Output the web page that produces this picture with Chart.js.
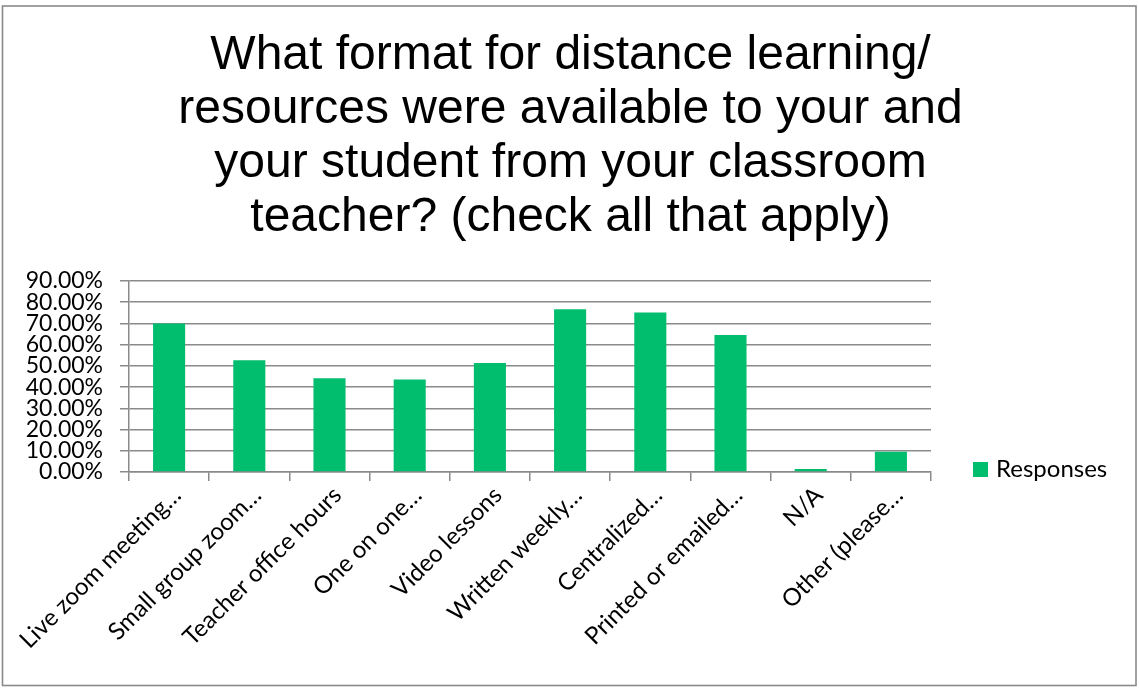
<!DOCTYPE html>
<html><head><meta charset="utf-8">
<script src="https://cdn.jsdelivr.net/npm/chart.js@4.4.1/dist/chart.umd.min.js"></script>
<style>html,body{margin:0;padding:0;background:#fff;}canvas{display:block;}</style>
</head><body>
<canvas id="c" width="1139" height="692"></canvas>
<script>
const categories = ["Live zoom meeting\u2026", "Small group zoom\u2026", "Teacher office hours", "One on one\u2026", "Video lessons", "Written weekly\u2026", "Centralized\u2026", "Printed or emailed\u2026", "N/A", "Other (please\u2026"];
const responses = [70.0, 52.7, 44.2, 43.6, 51.4, 76.7, 75.1, 64.6, 1.4, 9.6];
const yTickValues = [0, 10, 20, 30, 40, 50, 60, 70, 80, 90];
const seriesName = "Responses";
const titleLines = ["What format for distance learning/", "resources were available to your and", "your student from your classroom", "teacher? (check all that apply)"];

const barColor = "#00BE6E";
const gridColor = "#8a8a8a";

const frame = {
  id: "frame",
  beforeDraw(chart) {
    const ctx = chart.ctx;
    ctx.save();
    ctx.fillStyle = "#fff";
    ctx.fillRect(0, 0, chart.width, chart.height);
    ctx.restore();
  },
  afterDraw(chart) {
    const ctx = chart.ctx;
    ctx.save();
    ctx.strokeStyle = "#8a8a8a";
    ctx.lineWidth = 1.6;
    ctx.strokeRect(2.5, 6, 1133.5, 679.5);
    // legend
    const a = chart.chartArea;
    const ds = chart.data.datasets[0];
    ctx.fillStyle = ds.backgroundColor;
    ctx.fillRect(a.right + 42, 462, 15, 15);
    ctx.fillStyle = "#000";
    ctx.font = "24px Lato";
    ctx.textBaseline = "middle";
    ctx.textAlign = "left";
    ctx.fillText(ds.label, a.right + 65, 469);
    ctx.restore();
  }
};

new Chart(document.getElementById("c"), {
  type: "bar",
  data: {
    labels: categories,
    datasets: [{
      label: seriesName,
      data: responses,
      backgroundColor: barColor,
      borderWidth: 0,
      categoryPercentage: 1.0,
      barPercentage: 0.4
    }]
  },
  options: {
    responsive: false,
    devicePixelRatio: 1,
    animation: false,
    layout: { padding: { left: 2, right: 0, top: 0, bottom: 0 } },
    plugins: {
      legend: { display: false },
      tooltip: { enabled: false },
      title: {
        display: true,
        text: titleLines,
        color: "#000",
        font: { family: "Liberation Sans", size: 48, weight: "normal", lineHeight: 54 / 48 },
        padding: { top: 29, bottom: 36 }
      }
    },
    scales: {
      x: {
        grid: { drawOnChartArea: false, drawTicks: true, tickLength: 9, color: gridColor, lineWidth: 1.5, offset: true },
        border: { display: true, color: gridColor, width: 1.5 },
        ticks: {
          autoSkip: false, maxRotation: 45, minRotation: 45, padding: 0, labelOffset: 8,
          color: "#000", font: { family: "Lato", size: 24 }
        },
        afterFit(scale) { scale.height = 220; }
      },
      y: {
        min: 0, max: 90,
        afterBuildTicks(scale) { scale.ticks = yTickValues.map(v => ({ value: v })); },
        grid: { drawTicks: true, tickLength: 9, color: gridColor, lineWidth: 1.5 },
        border: { display: true, color: gridColor, width: 1.5 },
        ticks: {
          autoSkip: false, padding: 17, color: "#000",
          font: { family: "Lato", size: 23 },
          callback: v => v.toFixed(2) + "%"
        },
        afterFit(scale) { scale.width = 127; }
      },
      legendSpace: {
        position: "right",
        display: true,
        grid: { display: false },
        border: { display: false },
        ticks: { display: false },
        afterFit(scale) { scale.width = 208; }
      }
    }
  },
  plugins: [frame]
});
</script>
</body></html>
